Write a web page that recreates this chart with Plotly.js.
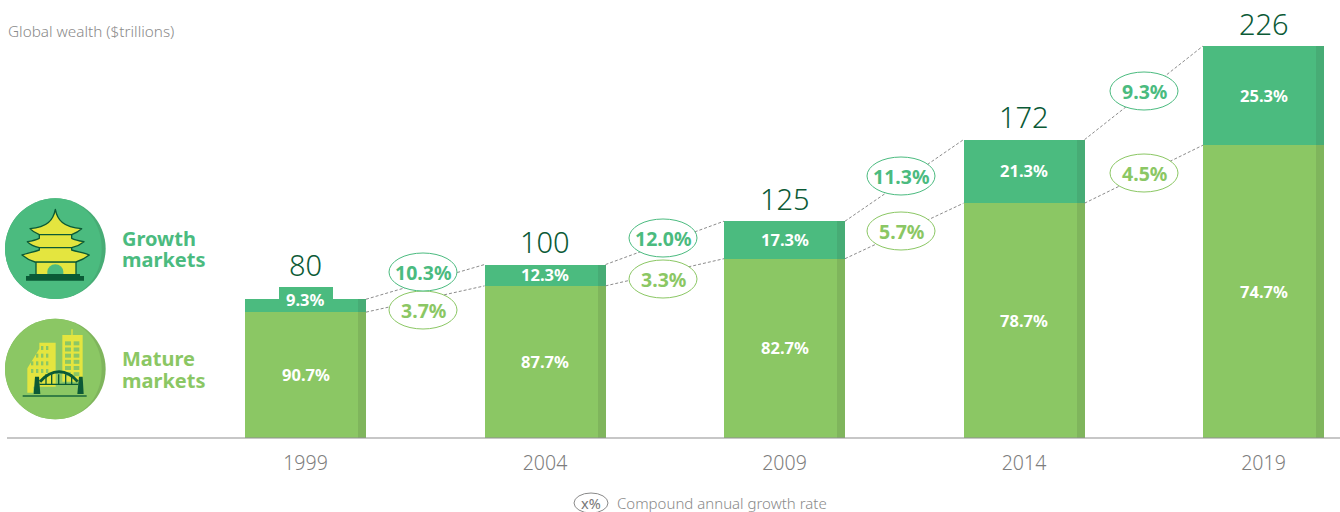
<!DOCTYPE html>
<html><head><meta charset="utf-8">
<script src="https://cdn.plot.ly/plotly-3.0.1.min.js"></script>
<style>html,body{margin:0;padding:0;background:#fff}#c{width:1340px;height:512px}</style>
</head><body><div id="c"></div>
<script>
const years = ['1999','2004','2009','2014','2019'];
const totals = [80,100,125,172,226];
const growthShare = [9.3,12.3,17.3,21.3,25.3];
const matureShare = [90.7,87.7,82.7,78.7,74.7];
const cagrGrowth = ['10.3%','12.0%','11.3%','9.3%'];
const cagrMature = ['3.7%','3.3%','5.7%','4.5%'];

const W=1340,H=512,AXIS_Y=438,TOP_Y=46;
const pxPerCat=239.5, x0px=305.5, barPx=121, stripPx=8, tabPx=54, tabH=12;
const pxPerUnit=(AXIS_Y-TOP_Y)/226;
const GREEN='#4BBB7F',LIME='#8BC764',GREEN_D='#47AC75',LIME_D='#7FB55C',DARK='#0B5A36',GREY='#8a8a8a';
const FONT='"Noto Sans", Lato, sans-serif';
const idx=years.map((_,i)=>i);
const w=barPx/pxPerCat, sw=stripPx/pxPerCat;
const mature=totals.map((t,i)=>t*matureShare[i]/100);
const growth=totals.map((t,i)=>t-mature[i]);
const xR=[-x0px/pxPerCat,(W-x0px)/pxPerCat];
const yR=[0,AXIS_Y/pxPerUnit];
const px=x=>x/W, py=y=>1-y/H;

function bar(y,base,color,width,offset,xs){
  return {type:'bar',x:xs||idx,y,base,width,offset,marker:{color,line:{width:0}},hoverinfo:'skip',showlegend:false};
}
function connector(vals){
  const xs=[],ys=[];
  for(let i=0;i<vals.length-1;i++){xs.push(i+w/2,i+1-w/2,null);ys.push(vals[i],vals[i+1],null);}
  return {type:'scatter',mode:'lines',x:xs,y:ys,line:{color:'#8c8c8c',width:1,dash:'3px,2px'},hoverinfo:'skip',showlegend:false};
}
const traces=[
  bar(mature,0,LIME,w,-w/2),
  bar(growth,mature,GREEN,w,-w/2),
  bar(mature,0,LIME_D,sw,w/2-sw),
  bar(growth,mature,GREEN_D,sw,w/2-sw),
  bar([tabH/pxPerUnit],[totals[0]],GREEN,tabPx/pxPerCat,-(tabPx/pxPerCat)/2,[0]),
  connector(totals),
  connector(mature)
];

const ann=[];
function txt(text,x,y,size,color,weight){
  ann.push({text,x,y,xref:'x',yref:'y',showarrow:false,xanchor:'center',yanchor:'middle',
    font:{family:FONT,size,color,weight},borderpad:0});
}
idx.forEach(i=>{
  txt(totals[i]+'',i,totals[i]+(i===0?tabH/pxPerUnit:0)+23/pxPerUnit,29,DARK,300);
  txt(matureShare[i].toFixed(1)+'%',i,mature[i]/2+0.5/pxPerUnit,16.5,'#fff',700);
  const gy=i===0?mature[i]+(growth[i]+tabH/pxPerUnit)/2:mature[i]+growth[i]/2;
  txt(growthShare[i].toFixed(1)+'%',i,gy+0.5/pxPerUnit,16.5,'#fff',700);
});
function ptxt(text,xp,yp,size,color,anchor,weight){
  ann.push({text,x:px(xp),y:py(yp),xref:'paper',yref:'paper',showarrow:false,xanchor:anchor||'center',yanchor:'middle',
    borderpad:0,font:{family:FONT,size,color,weight:weight||400}});
}
const shapes=[];
shapes.push({type:'line',xref:'paper',yref:'paper',x0:px(7),x1:1,y0:py(AXIS_Y),y1:py(AXIS_Y),line:{color:'#8f8f8f',width:1.2},layer:'above'});
function oval(cx,cy,rx,ry,color){
  shapes.push({type:'circle',xref:'paper',yref:'paper',x0:px(cx-rx),x1:px(cx+rx),y0:py(cy-ry),y1:py(cy+ry),
    fillcolor:'#fff',line:{color,width:1},layer:'above'});
}
const ovalX=[423,663,901,1144], ovalGY=[272,238,176,91], ovalMY=[310,279,231,173];
ovalX.forEach((x,i)=>{
  oval(x,ovalMY[i],34,19,LIME);
  oval(x,ovalGY[i],34,19,GREEN);
  ptxt(cagrGrowth[i],x,ovalGY[i],19.5,GREEN,'center',700);
  ptxt(cagrMature[i],x,ovalMY[i],19.5,LIME,'center',700);
});
ptxt('Global wealth ($trillions)',7,31,15.3,GREY,'left',300);
ptxt('Growth',121,238,20,GREEN,'left',700);
ptxt('markets',121,259,20,GREEN,'left',700);
ptxt('Mature',121,358,20,LIME,'left',700);
ptxt('markets',121,380,20,LIME,'left',700);
oval(591,503,17,10,'#8a8a8a');
ptxt('x%',591,503,14.5,'#777','center');
ptxt('Compound annual growth rate',616,503,15,GREY,'left',300);

/* decorative market icons */
const Y='#E4E53F';
function icons(){
  let s='<svg xmlns="http://www.w3.org/2000/svg" width="240" height="240" viewBox="0 0 720 720">';
  s+=`<circle cx="166" cy="176" r="151" fill="${GREEN_D}"/><path d="M166 25A151 151 0 0 0 166 327C240 327 305 270 305 176C305 85 240 25 166 25Z" fill="${GREEN}"/>`;
  const st=`fill="${Y}" stroke="${DARK}" stroke-width="4" stroke-linejoin="round"`;
  s+=`<path d="M108 215H228V256H108Z" ${st}/>`;
  s+=`<path d="M118 172H215V180C235 186 255 190 268 195C255 205 240 212 228 216H105C92 212 78 205 66 195C80 190 100 186 118 180Z" ${st}/>`;
  s+=`<path d="M118 133H215V145C225 150 240 153 252 155C240 165 228 170 215 173H118C105 170 92 165 82 155C95 153 108 150 118 145Z" ${st}/>`;
  s+=`<path d="M166 58C172 90 190 112 245 116C235 125 225 130 215 134H118C108 130 98 125 90 116C142 112 160 90 166 58Z" ${st}/>`;
  s+=`<path d="M142 256V245A24 22 0 0 1 190 245V256Z" fill="${GREEN}"/>`;
  s+=`<path d="M88 252H240V258H252V272H78V258H88Z" fill="${DARK}"/>`;
  s+=`<circle cx="166" cy="537" r="151" fill="${LIME_D}"/><path d="M166 386A151 151 0 0 0 166 688C240 688 305 631 305 537C305 446 240 386 166 386Z" fill="${LIME}"/>`;
  s+=`<path d="M82 535L118 476V458H167V590H100V608H82Z" fill="${Y}"/>`;
  s+=`<path d="M214 418H218V435H248V575H187V435H214Z" fill="${Y}"/>`;
  for(let r=0;r<6;r++)for(let c=0;c<2;c++) s+=`<rect x="${195+c*26}" y="${454+r*18.5}" width="${c?17:18}" height="12" fill="${LIME}"/>`;
  for(let r=0;r<4;r++)for(let c=0;c<4;c++){ if(c<2&&r<1) continue; if(c===0&&r<2) continue;
    s+=`<rect x="${93+c*15}" y="${468+r*23}" width="7" height="12" fill="${LIME}"/>`;}
  s+=`<path d="M120 575C155 535 200 535 233 575" fill="none" stroke="${DARK}" stroke-width="9"/>`;
  s+=`<path d="M118 583H235" stroke="${DARK}" stroke-width="4"/>`;
  [138,155,176,197,215].forEach(x=>{s+=`<path d="M${x} 553V583" stroke="${DARK}" stroke-width="4"/>`;});
  s+=`<path d="M105 560H117L121 612H101Z M237 560H248L251 612H232Z" fill="${DARK}"/>`;
  s+=`<rect x="68" y="616" width="192" height="4" fill="${DARK}"/>`;
  s+='</svg>';
  return 'data:image/svg+xml;base64,'+btoa(s);
}

const layout={
  width:W,height:H,margin:{l:0,r:0,t:0,b:0,pad:0},
  paper_bgcolor:'#fff',plot_bgcolor:'rgba(0,0,0,0)',barmode:'overlay',bargap:0,showlegend:false,
  xaxis:{domain:[0,1],range:xR,tickmode:'array',tickvals:idx,ticktext:years,showgrid:false,zeroline:false,showline:false,
    ticks:'',ticklabelstandoff:11,tickfont:{family:FONT,size:19.5,color:'#7d7d7d',weight:300},fixedrange:true,automargin:false},
  yaxis:{domain:[1-AXIS_Y/H,1],range:yR,visible:false,fixedrange:true},
  shapes,annotations:ann,
  images:[{source:icons(),xref:'paper',yref:'paper',x:0,y:py(190),sizex:240/W,sizey:240/H,xanchor:'left',yanchor:'top',sizing:'stretch',layer:'above'}]
};
Plotly.newPlot('c',traces,layout,{displayModeBar:false,staticPlot:true});
</script></body></html>
